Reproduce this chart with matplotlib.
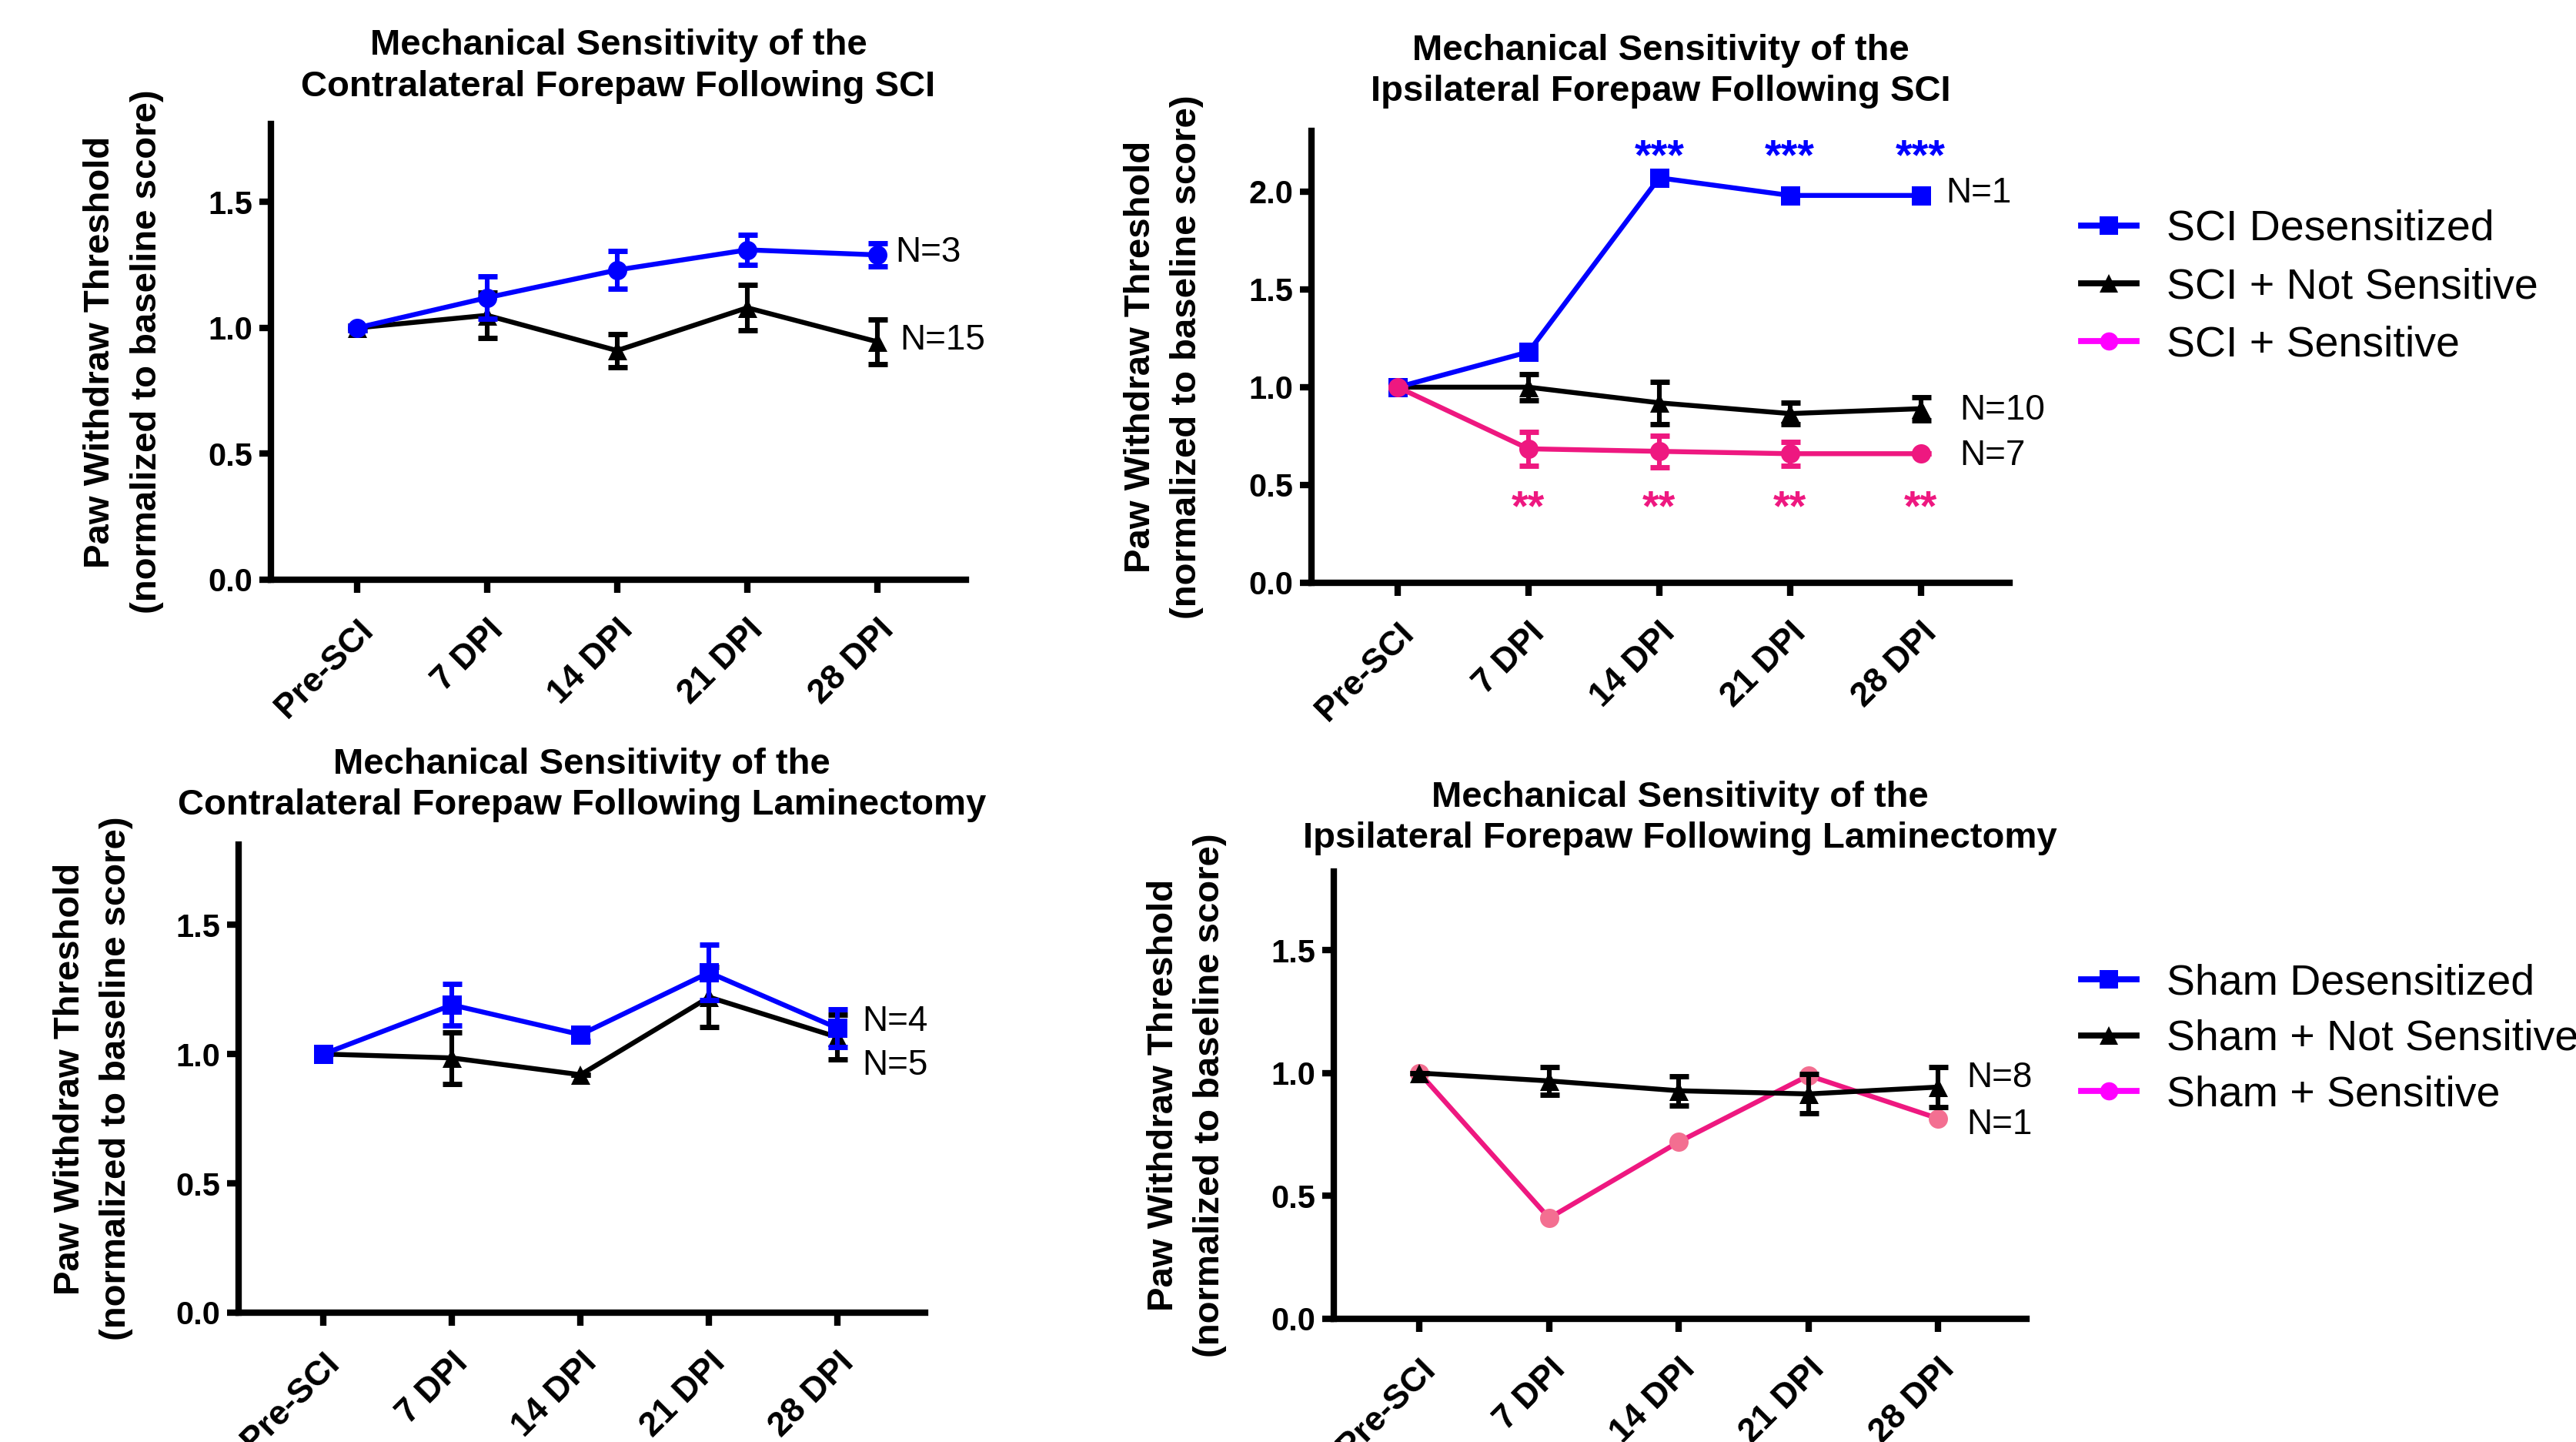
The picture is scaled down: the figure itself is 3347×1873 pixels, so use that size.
import matplotlib
matplotlib.use("Agg")
import matplotlib.pyplot as plt
from matplotlib.lines import Line2D
import numpy as np

plt.rcParams['font.family'] = ['Liberation Sans', 'DejaVu Sans']

W, H = 3347, 1873
DPI = 200

days = ['Pre-SCI', '7 DPI', '14 DPI', '21 DPI', '28 DPI']

# contralateral forepaw, SCI
contra_sci_desens = [1.0, 1.12, 1.23, 1.31, 1.29]
contra_sci_desens_sem = [0.01, 0.085, 0.075, 0.06, 0.045]
contra_sci_notsens = [1.0, 1.05, 0.91, 1.08, 0.945]
contra_sci_notsens_sem = [0.01, 0.09, 0.065, 0.09, 0.088]

# ipsilateral forepaw, SCI
ipsi_sci_desens = [1.0, 1.18, 2.07, 1.98, 1.98]
ipsi_sci_notsens = [1.0, 1.0, 0.92, 0.865, 0.89]
ipsi_sci_notsens_sem = [0.0, 0.067, 0.108, 0.055, 0.06]
ipsi_sci_sens = [1.0, 0.685, 0.672, 0.66, 0.66]
ipsi_sci_sens_sem = [0.0, 0.087, 0.08, 0.06, 0.0]

# contralateral forepaw, laminectomy
contra_lam_desens = [1.0, 1.19, 1.075, 1.315, 1.10]
contra_lam_desens_sem = [0.0, 0.08, 0.025, 0.107, 0.072]
contra_lam_notsens = [1.0, 0.985, 0.92, 1.22, 1.065]
contra_lam_notsens_sem = [0.0, 0.10, 0.0, 0.117, 0.086]

# ipsilateral forepaw, laminectomy
ipsi_lam_notsens = [1.0, 0.968, 0.928, 0.915, 0.943]
ipsi_lam_notsens_sem = [0.0, 0.057, 0.06, 0.08, 0.08]
ipsi_lam_sens = [1.0, 0.41, 0.72, 0.99, 0.815]

BLUE = '#0000ff'
PINK = '#ee1880'
LIGHT_PINK = '#f36f91'
MAGENTA = '#ff00ff'

YLABEL = 'Paw Withdraw Threshold\n(normalized to baseline score)'


def px_axes(fig, left, top, right, bottom):
    return fig.add_axes([left / W, 1 - bottom / H, (right - left) / W, (bottom - top) / H])


def style(ax, title, ymax, yticks, pad):
    x = np.arange(len(days))
    ax.set_xlim(-0.66, 4.68)
    ax.set_ylim(0, ymax)
    ax.set_xticks(x)
    ax.set_xticklabels(days, rotation=45, ha='right', rotation_mode='anchor',
                       fontsize=16, fontweight='bold')
    ax.set_yticks(yticks)
    ax.set_yticklabels([f'{v:.1f}' for v in yticks], fontsize=15, fontweight='bold')
    for s in ['top', 'right']:
        ax.spines[s].set_visible(False)
    for s in ['left', 'bottom']:
        ax.spines[s].set_linewidth(3)
    ax.tick_params(axis='x', direction='out', length=6, width=3, pad=10)
    ax.tick_params(axis='y', direction='out', length=5.5, width=3, pad=3)
    ax.set_ylabel(YLABEL, fontsize=17, fontweight='bold', linespacing=1.48, va='center')
    ax.yaxis.set_label_coords(-0.212, 0.5)
    ax.set_title(title, fontsize=17, fontweight='bold', linespacing=1.28, pad=pad)


def series(ax, y, sem, color, marker, ms=9, lw=2.3, mfc=None, z=3):
    x = np.arange(len(days))
    ax.plot(x, y, color=color, lw=lw, zorder=z)
    if sem is not None:
        ax.errorbar(x, y, yerr=sem, fmt='none', ecolor=color, elinewidth=2.2,
                    capsize=4.5, capthick=2.5, zorder=z)
    ax.plot(x, y, linestyle='none', marker=marker, ms=ms, color=mfc or color,
            markeredgewidth=0, zorder=z + 0.5)


fig = plt.figure(figsize=(W / DPI, H / DPI), dpi=DPI)

# top left
ax1 = px_axes(fig, 352, 161, 1255, 753)
style(ax1, 'Mechanical Sensitivity of the\nContralateral Forepaw Following SCI',
      1.81, [0, 0.5, 1.0, 1.5], 13)
series(ax1, contra_sci_notsens, contra_sci_notsens_sem, 'black', '^', z=3)
series(ax1, contra_sci_desens, contra_sci_desens_sem, BLUE, 'o', z=4)
ax1.text(4.14, 1.30, 'N=3', fontsize=16.5, va='center', ha='left')
ax1.text(4.17, 0.95, 'N=15', fontsize=16.5, va='center', ha='left')

# top right
ax2 = px_axes(fig, 1704, 170, 2611, 757)
style(ax2, 'Mechanical Sensitivity of the\nIpsilateral Forepaw Following SCI',
      2.31, [0, 0.5, 1.0, 1.5, 2.0], 14)
series(ax2, ipsi_sci_notsens, ipsi_sci_notsens_sem, 'black', '^', z=3)
series(ax2, ipsi_sci_desens, None, BLUE, 's', z=4)
series(ax2, ipsi_sci_sens, ipsi_sci_sens_sem, PINK, 'o', z=5)
ax2.text(4.19, 1.99, 'N=1', fontsize=16.5, va='center', ha='left')
ax2.text(4.30, 0.88, 'N=10', fontsize=16.5, va='center', ha='left')
ax2.text(4.30, 0.65, 'N=7', fontsize=16.5, va='center', ha='left')
for i in [2, 3, 4]:
    ax2.text(i, 2.17, '***', color=BLUE, fontsize=20, fontweight='bold',
             ha='center', va='center')
for i in [1, 2, 3, 4]:
    ax2.text(i, 0.377, '**', color=PINK, fontsize=20, fontweight='bold',
             ha='center', va='center')

# bottom left
ax3 = px_axes(fig, 310, 1097, 1202, 1705)
style(ax3, 'Mechanical Sensitivity of the\nContralateral Forepaw Following Laminectomy',
      1.81, [0, 0.5, 1.0, 1.5], 14)
series(ax3, contra_lam_notsens, contra_lam_notsens_sem, 'black', '^', z=3)
series(ax3, contra_lam_desens, contra_lam_desens_sem, BLUE, 's', z=4)
ax3.text(4.19, 1.125, 'N=4', fontsize=16.5, va='center', ha='left')
ax3.text(4.19, 0.956, 'N=5', fontsize=16.5, va='center', ha='left')

# bottom right
ax4 = px_axes(fig, 1733, 1132, 2633, 1713)
style(ax4, 'Mechanical Sensitivity of the\nIpsilateral Forepaw Following Laminectomy',
      1.82, [0, 0.5, 1.0, 1.5], 11)
series(ax4, ipsi_lam_sens, None, PINK, 'o', mfc=LIGHT_PINK, z=3)
series(ax4, ipsi_lam_notsens, ipsi_lam_notsens_sem, 'black', '^', z=4)
ax4.text(4.22, 0.98, 'N=8', fontsize=16.5, va='center', ha='left')
ax4.text(4.22, 0.79, 'N=1', fontsize=16.5, va='center', ha='left')


def legend_handles():
    return [
        Line2D([], [], color=BLUE, lw=2.8, marker='s', ms=8.5, markeredgewidth=0),
        Line2D([], [], color='black', lw=2.8, marker='^', ms=8.5, markeredgewidth=0),
        Line2D([], [], color=MAGENTA, lw=2.8, marker='o', ms=8.5, markeredgewidth=0),
    ]


fig.legend(legend_handles(), ['SCI Desensitized', 'SCI + Not Sensitive', 'SCI + Sensitive'],
           loc='center left', bbox_to_anchor=(2704 / W, 1 - 373 / H), frameon=False,
           fontsize=20, handlelength=1.3, handletextpad=0.7, labelspacing=0.415,
           borderpad=0, borderaxespad=0)
fig.legend(legend_handles(), ['Sham Desensitized', 'Sham + Not Sensitive', 'Sham + Sensitive'],
           loc='center left', bbox_to_anchor=(2704 / W, 1 - 1350 / H), frameon=False,
           fontsize=20, handlelength=1.3, handletextpad=0.7, labelspacing=0.365,
           borderpad=0, borderaxespad=0)

fig.savefig('out.png', dpi=DPI)
